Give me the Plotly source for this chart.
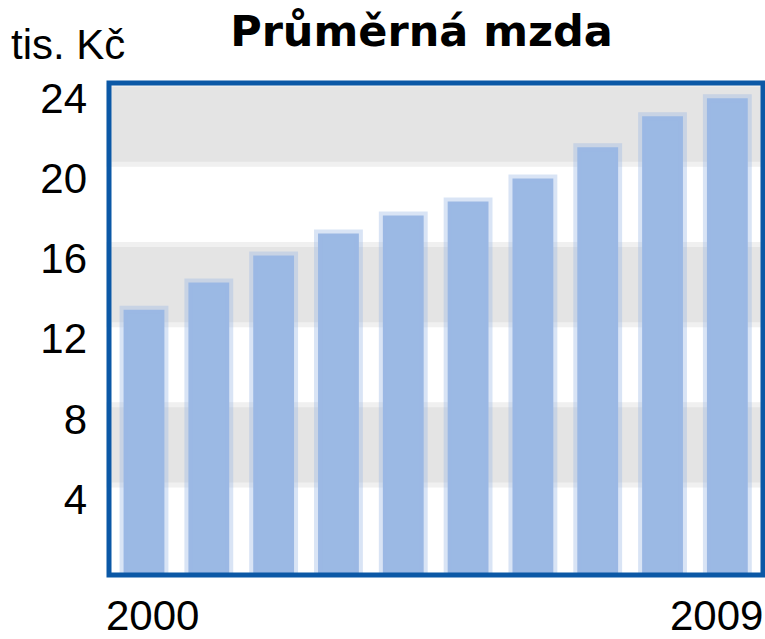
import plotly.graph_objects as go

# ---- data ----
years = ["2000", "2001", "2002", "2003", "2004", "2005", "2006", "2007", "2008", "2009"]
wage_thousands = [12.75, 14.1, 15.45, 16.55, 17.45, 18.15, 19.3, 20.85, 22.4, 23.3]
y_ticks = [4, 8, 12, 16, 20, 24]
y_tick_labels = ["4", "8", "12", "16", "20", "24"]
band_ranges = [(4, 8), (12, 16), (20, 24)]
title_text = "Průměrná mzda"
unit_text = "tis. Kč"
first_label = years[0]
last_label = years[-1]

# ---- styling ----
W, H = 765, 639
L, R, T, B = 108.5, 2, 83, 63.5
PW, PH = W - L - R, H - T - B
Y_MIN, Y_MAX = -0.49, 24.06
BAR_COLOR = "rgb(155,185,228)"
BAR_EDGE = "rgba(155,185,228,0.38)"
BAND_COLOR = "#e4e4e4"
BAND_EDGE = "#f0f0f0"
FRAME_COLOR = "#0b58a6"
FONT = "Liberation Sans, Arial, sans-serif"


def px_x(page_x):
    return (page_x - L) / PW


def px_y(page_y):
    return (H - B - page_y) / PH


fig = go.Figure()
fig.add_trace(go.Bar(
    x=years,
    y=[v - Y_MIN for v in wage_thousands],
    base=Y_MIN,
    marker=dict(color=BAR_COLOR, line=dict(color=BAR_EDGE, width=8)),
    width=0.63,
    hoverinfo="skip",
))

shapes = []
for lo, hi in band_ranges:
    shapes.append(dict(type="rect", xref="paper", yref="y", x0=0, x1=1, y0=lo, y1=hi,
                       fillcolor=BAND_COLOR, line=dict(color=BAND_EDGE, width=5),
                       layer="below"))
shapes.append(dict(type="rect", xref="paper", yref="paper", x0=0, x1=1, y0=0, y1=1,
                   fillcolor="rgba(0,0,0,0)", line=dict(color=FRAME_COLOR, width=5),
                   layer="above"))

fig.update_layout(
    width=W, height=H,
    margin=dict(l=L, r=R, t=T, b=B, pad=0),
    paper_bgcolor="white", plot_bgcolor="white",
    showlegend=False,
    shapes=shapes,
    title=dict(text=title_text, x=421.5 / W, xanchor="center", xref="container",
               y=1 - 31 / H, yanchor="middle", yref="container",
               font=dict(family="DejaVu Sans, sans-serif", size=43, weight="bold",
                         color="#000000")),
    xaxis=dict(range=[-0.54, 9.55], showticklabels=False, showgrid=False, zeroline=False,
               showline=False, ticks="", fixedrange=True, automargin=False),
    yaxis=dict(range=[Y_MIN, Y_MAX], tickvals=y_ticks, ticktext=y_tick_labels,
               showgrid=False, zeroline=False, showline=False, ticks="",
               tickfont=dict(family=FONT, size=42, color="#000000"),
               ticklabelshift=14, ticklabelstandoff=21, fixedrange=True,
               automargin=False),
    annotations=[
        dict(text=unit_text, xref="paper", yref="paper", x=px_x(8),
             y=px_y(44), xanchor="left", yanchor="middle", showarrow=False,
             font=dict(family=FONT, size=42, color="#000000")),
        dict(text=first_label, xref="paper", yref="paper", x=px_x(103),
             y=px_y(616), xanchor="left", yanchor="middle", showarrow=False,
             font=dict(family=FONT, size=42, color="#000000")),
        dict(text=last_label, xref="paper", yref="paper", x=px_x(765),
             y=px_y(616), xanchor="right", yanchor="middle", showarrow=False,
             font=dict(family=FONT, size=42, color="#000000")),
    ],
)

fig.write_html(
    "out.html",
    config={"displayModeBar": False, "staticPlot": True},
    post_script="document.body.style.margin='0';document.body.style.overflow='hidden';",
)
